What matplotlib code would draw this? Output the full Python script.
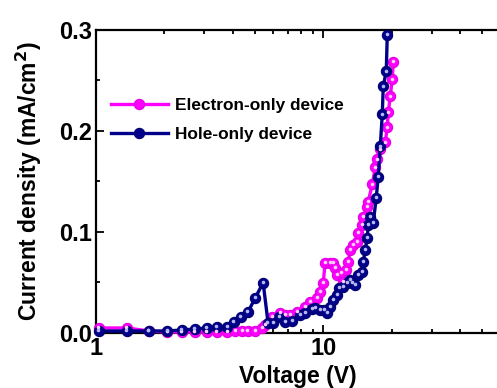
import matplotlib
matplotlib.use("Agg")
import matplotlib.pyplot as plt
import matplotlib.transforms as mtransforms
from matplotlib.lines import Line2D
from matplotlib.ticker import FixedLocator, FormatStrFormatter, NullFormatter

plt.rcParams['font.family'] = ['Liberation Sans', 'DejaVu Sans']
plt.rcParams['font.weight'] = 'bold'

# ---------------- data ----------------
electron_v = [1.03, 1.37, 1.71, 2.06, 2.39, 2.73, 3.08, 3.41, 3.78, 4.10, 4.40, 4.67,
              5.02, 5.39, 5.55, 5.96, 6.47, 6.80, 7.16, 7.69, 8.33, 8.76, 9.41, 9.70,
              10.0, 10.20, 10.74, 11.07, 11.29, 11.52, 12.00, 12.25, 12.63, 12.89, 13.15,
              13.56, 14.12, 14.26, 14.85, 15.01, 15.63, 15.78, 16.44, 16.95, 17.30, 17.83,
              18.76, 19.14, 19.34, 19.73, 20.14, 20.34]
electron_j = [0.0045, 0.0045, 0.0015, 0.0005, 0.0005, 0.0005, 0.0005, 0.0005, 0.0005,
              0.0015, 0.0015, 0.0015, 0.0015, 0.0045, 0.0075, 0.0154, 0.0194, 0.0174,
              0.0174, 0.0204, 0.0254, 0.0303, 0.0343, 0.0403, 0.0493, 0.0692, 0.0692,
              0.0692, 0.0642, 0.0572, 0.0592, 0.0502, 0.0622, 0.0701, 0.0821, 0.0871,
              0.0900, 0.0990, 0.1070, 0.1149, 0.1249, 0.1299, 0.1468, 0.1637, 0.1716,
              0.1816, 0.1886, 0.2035, 0.2184, 0.2343, 0.2512, 0.2682]

hole_v = [1.03, 1.37, 1.71, 2.06, 2.39, 2.73, 3.08, 3.41, 3.78, 4.05, 4.35, 4.67, 5.02,
          5.44, 5.72, 6.02, 6.40, 6.80, 7.30, 7.92, 8.33, 8.94, 9.22, 9.70, 10.10, 10.41,
          10.74, 11.07, 11.52, 11.76, 12.25, 12.76, 13.15, 13.42, 13.84, 14.26, 14.85,
          15.01, 15.31, 15.63, 15.78, 16.11, 16.61, 17.12, 17.47, 17.83, 18.20, 18.38,
          18.95, 19.14]
hole_j = [0.0015, 0.0015, 0.0015, 0.0015, 0.0025, 0.0035, 0.0045, 0.0055, 0.0055, 0.0104,
          0.0154, 0.0204, 0.0343, 0.0493, 0.0095, 0.0095, 0.0154, 0.0104, 0.0114, 0.0174,
          0.0194, 0.0234, 0.0244, 0.0224, 0.0224, 0.0194, 0.0254, 0.0323, 0.0373, 0.0443,
          0.0453, 0.0493, 0.0522, 0.0493, 0.0473, 0.0572, 0.0602, 0.0701, 0.0821, 0.0940,
          0.1070, 0.1149, 0.1090, 0.1338, 0.1547, 0.1846, 0.2164, 0.2443, 0.2592, 0.2950]

labels = ["Electron-only device", "Hole-only device"]
y_ticks = [0.0, 0.1, 0.2, 0.3]
x_ticks = [1, 10]

# ---------------- style ----------------
magenta = '#FF00FF'
magenta_edge = '#E000E0'
magenta_hi = '#FFD0FF'
navy = '#00008B'
navy_edge = '#000070'
navy_hi = '#B8B8F0'

W, H = 497, 388
fig = plt.figure(figsize=(W / 100, H / 100), dpi=100)
ax = fig.add_axes([96 / W, (H - 332.5) / H, (500 - 96) / W, (332.5 - 30) / H])

hl_offset = mtransforms.offset_copy(ax.transData, fig=fig, x=-0.6, y=0.6, units='dots')

for v, j, c, ec, hi in [(electron_v, electron_j, magenta, magenta_edge, magenta_hi),
                        (hole_v, hole_j, navy, navy_edge, navy_hi)]:
    ax.plot(v, j, '-', color=c, lw=2.4, marker='o', ms=7.4, mfc=c, mec=ec, mew=0.8,
            clip_on=False, zorder=3)
    ax.plot(v, j, 'o', color=hi, ms=2.6, mew=0, transform=hl_offset,
            clip_on=False, zorder=3.1)

ax.set_xscale('log')
ax.set_xlim(1, 60)
ax.set_ylim(0, 0.3)

ax.xaxis.set_major_locator(FixedLocator(x_ticks))
ax.xaxis.set_major_formatter(FormatStrFormatter('%d'))
ax.xaxis.set_minor_locator(FixedLocator([2, 3, 4, 5, 6, 7, 8, 9, 20, 30, 40, 50]))
ax.xaxis.set_minor_formatter(NullFormatter())
ax.yaxis.set_major_locator(FixedLocator(y_ticks))
ax.yaxis.set_major_formatter(FormatStrFormatter('%.1f'))
ax.yaxis.set_minor_locator(FixedLocator([0.05, 0.15, 0.25]))

for s in ['left', 'bottom', 'top', 'right']:
    ax.spines[s].set_linewidth(1.6)

ax.tick_params(which='both', direction='in', top=True, right=False, width=1.3)
ax.tick_params(which='major', length=5.5, labelsize=17, pad=3)
ax.tick_params(which='minor', length=3)
for lab in ax.get_xticklabels() + ax.get_yticklabels():
    lab.set_fontweight('bold')

ax.set_xlabel('Voltage (V)', fontsize=16.5, fontweight='bold', labelpad=4)
ax.set_ylabel('Current density (mA/cm$^\\mathbf{2}$)', fontsize=16.5, fontweight='bold',
              labelpad=11)

# legend
handles = []
for c, ec in [(magenta, magenta_edge), (navy, navy_edge)]:
    handles.append(Line2D([], [], color=c, lw=2.4, marker='o', ms=7.4, mfc=c, mec=ec, mew=0.8))
leg = fig.legend(handles, labels, loc='center left',
                 bbox_to_anchor=(111 / W, 1 - 120 / H), frameon=False,
                 prop={'family': ['Liberation Sans'], 'weight': 'bold', 'size': 12.4},
                 handlelength=3.3, handletextpad=0.4, labelspacing=0.78,
                 borderpad=0, borderaxespad=0)

fig.savefig('out.png', dpi=100)
